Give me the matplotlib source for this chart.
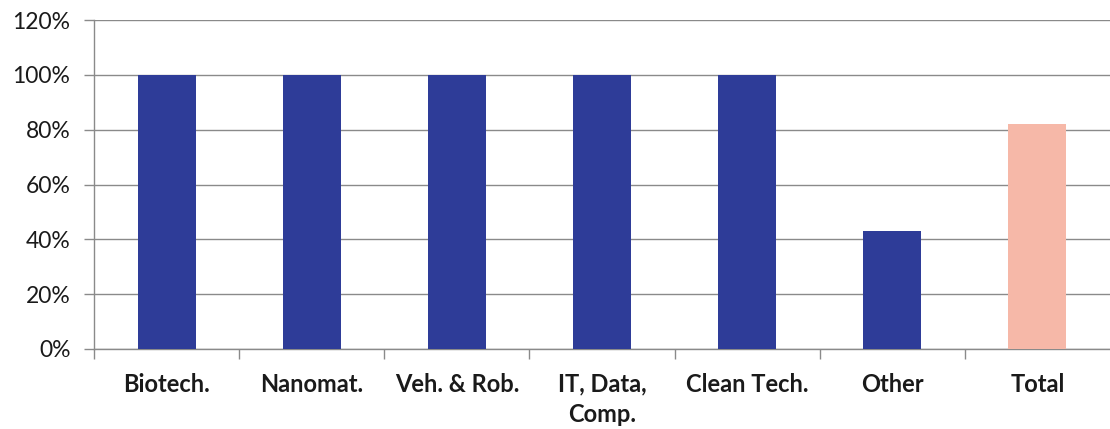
import matplotlib.pyplot as plt
from matplotlib.ticker import FuncFormatter, FixedLocator

categories = ['Biotech.', 'Nanomat.', 'Veh. & Rob.', 'IT, Data,\nComp.', 'Clean Tech.', 'Other', 'Total']
shares = [100, 100, 100, 100, 100, 43, 82]
bar_colors = ['#2E3C98'] * 6 + ['#F6B8A8']

plt.rcParams['font.family'] = ['Lato', 'DejaVu Sans']

fig = plt.figure(figsize=(11.1, 4.29), dpi=100)
ax = fig.add_axes([0.0847, 0.1865, 0.9153, 0.7665])

x = range(len(categories))
ax.bar(x, shares, width=0.4, color=bar_colors, zorder=3)

ax.set_xlim(-0.5, len(categories) - 0.5)
ax.set_ylim(0, 120)
ax.set_yticks(range(0, 121, 20))
ax.yaxis.set_major_formatter(FuncFormatter(lambda v, p: f'{v:.0f}%'))
ax.grid(axis='y', color='#8a8a8a', linewidth=1.0, zorder=0)

# categories in the middle, tick marks at the boundaries
ax.set_xticks(list(x))
ax.set_xticklabels(categories, fontsize=17, fontweight='bold', color='#1a1a1a', linespacing=1.4)
ax.tick_params(axis='x', which='major', length=0, pad=17)
ax.xaxis.set_minor_locator(FixedLocator([i - 0.5 for i in range(len(categories))]))
ax.tick_params(axis='x', which='minor', length=7, width=1, color='#8a8a8a', direction='out')
ax.tick_params(axis='y', length=7, width=1, color='#8a8a8a', labelsize=16.5, labelcolor='#1a1a1a', pad=10)

for side in ['top', 'right']:
    ax.spines[side].set_visible(False)
for side in ['left', 'bottom']:
    ax.spines[side].set_color('#8a8a8a')
    ax.spines[side].set_linewidth(1.0)

plt.savefig('out.png', dpi=100)
